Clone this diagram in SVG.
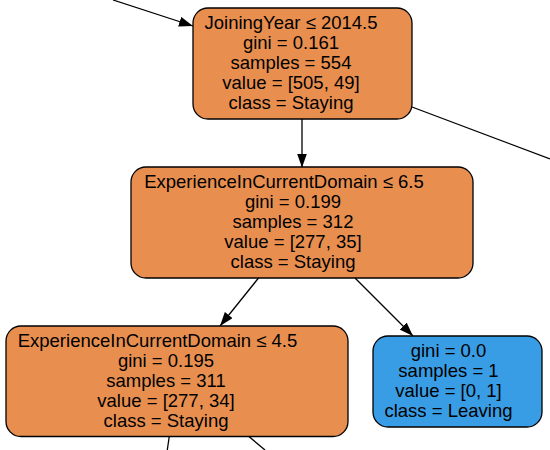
<svg xmlns="http://www.w3.org/2000/svg" width="550" height="450" viewBox="0 0 550 450">
<style>
.node rect{stroke:#000;stroke-width:1.3}
.o{fill:#e88f50}
.b{fill:#399de5}
text{font-family:"Liberation Sans",Arial,sans-serif;font-size:18.5px;fill:#000;text-anchor:middle}
.edges line{stroke:#000;stroke-width:1.3}
</style>
<defs>
<marker id="ah" markerUnits="userSpaceOnUse" markerWidth="14" markerHeight="10" viewBox="0 0 14 10" refX="14" refY="5" orient="auto">
<path d="M0,0 L14,5 L0,10 Z" fill="#000"/>
</marker>
</defs>
<rect width="550" height="450" fill="#fff"/>
<g class="edges">
<line x1="113" y1="0" x2="193" y2="26" marker-end="url(#ah)"/>
<line x1="412" y1="107" x2="550" y2="159"/>
<line x1="302" y1="119" x2="302" y2="167.5" marker-end="url(#ah)"/>
<line x1="258.5" y1="278" x2="220" y2="326" marker-end="url(#ah)"/>
<line x1="355" y1="278" x2="413" y2="336" marker-end="url(#ah)"/>
<line x1="169.3" y1="436" x2="167.3" y2="450"/>
<line x1="248.3" y1="436" x2="265" y2="450"/>
</g>
<g id="node1" class="node">
<rect class="o" x="193" y="8" width="219" height="111" rx="15" ry="15"/>
<text x="291" y="29">JoiningYear ≤ 2014.5</text>
<text x="291" y="49">gini = 0.161</text>
<text x="291" y="69">samples = 554</text>
<text x="291" y="89">value = [505, 49]</text>
<text x="291" y="109">class = Staying</text>
</g>
<g id="node2" class="node">
<rect class="o" x="131" y="167" width="342" height="111" rx="15" ry="15"/>
<text x="284" y="187.5">ExperienceInCurrentDomain ≤ 6.5</text>
<text x="293" y="207.5">gini = 0.199</text>
<text x="293" y="227.5">samples = 312</text>
<text x="293" y="247.5">value = [277, 35]</text>
<text x="293" y="267.5">class = Staying</text>
</g>
<g id="node3" class="node">
<rect class="o" x="6" y="326" width="342" height="110.5" rx="15" ry="15"/>
<text x="157.5" y="346.5">ExperienceInCurrentDomain ≤ 4.5</text>
<text x="166" y="366.5">gini = 0.195</text>
<text x="166" y="386.5">samples = 311</text>
<text x="166" y="406.5">value = [277, 34]</text>
<text x="166" y="426.5">class = Staying</text>
</g>
<g id="node4" class="node">
<rect class="b" x="373" y="336" width="169" height="91" rx="15" ry="15"/>
<text x="448.5" y="356.5">gini = 0.0</text>
<text x="448.5" y="376.5">samples = 1</text>
<text x="448.5" y="396.5">value = [0, 1]</text>
<text x="448.5" y="416.5">class = Leaving</text>
</g>
</svg>
